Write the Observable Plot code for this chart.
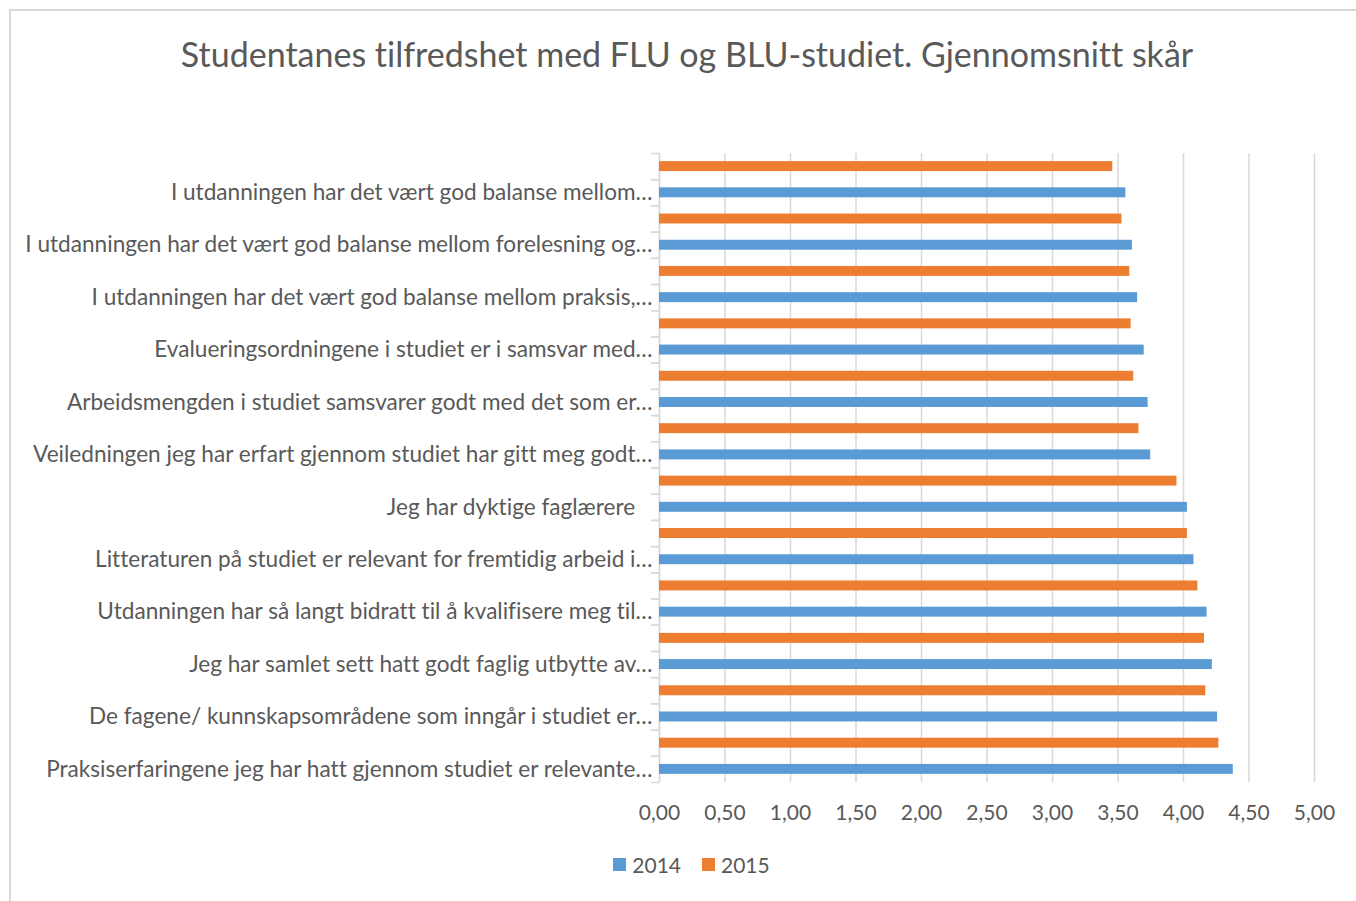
<!DOCTYPE html>
<html>
<head>
<meta charset="utf-8">
<script src="https://cdn.jsdelivr.net/npm/d3@7"></script>
<script src="https://cdn.jsdelivr.net/npm/@observablehq/plot@0.6"></script>
<style>
  html, body { margin: 0; padding: 0; background: #fff; overflow: hidden; }
  * { font-variant-ligatures: none; font-feature-settings: "liga" 0, "clig" 0; }
  #chart {
    position: absolute; left: 9px; top: 9px; width: 1352px; height: 1000px;
    border: 2px solid #d9d9d9; background: #fff;
    font-family: Lato, "Open Sans", sans-serif; color: #595959;
  }
  #title {
    height: 72px; padding-top: 26px; text-align: center;
    font-size: 34px; line-height: 34px; color: #595959; white-space: nowrap;
  }
  #legend { display: flex; justify-content: center; padding-top: 9px; padding-left: 30px; }
  #legend * { font-family: Lato, sans-serif !important; font-size: 21px !important; color: #595959 !important; }
  #legend svg { margin-right: 6px !important; }
  svg text { font-variant-ligatures: none; }
</style>
</head>
<body>
<div id="chart">
  <div id="title">Studentanes tilfredshet med FLU og BLU-studiet. Gjennomsnitt skår</div>
  <div id="plot"></div>
  <div id="legend"></div>
</div>
<script>
const categories = [
  "I utdanningen har det vært god balanse mellom…",
  "I utdanningen har det vært god balanse mellom forelesning og…",
  "I utdanningen har det vært god balanse mellom praksis,…",
  "Evalueringsordningene i studiet er i samsvar med…",
  "Arbeidsmengden i studiet samsvarer godt med det som er…",
  "Veiledningen jeg har erfart gjennom studiet har gitt meg godt…",
  "Jeg har dyktige faglærere\u00a0\u00a0\u00a0",
  "Litteraturen på studiet er relevant for fremtidig arbeid i…",
  "Utdanningen har så langt bidratt til å kvalifisere meg til…",
  "Jeg har samlet sett hatt godt faglig utbytte av…",
  "De fagene/ kunnskapsområdene som inngår i studiet er…",
  "Praksiserfaringene jeg har hatt gjennom studiet er relevante…"
];
const values2014 = [3.56, 3.61, 3.65, 3.70, 3.73, 3.75, 4.03, 4.08, 4.18, 4.22, 4.26, 4.38];
const values2015 = [3.46, 3.53, 3.59, 3.60, 3.62, 3.66, 3.95, 4.03, 4.11, 4.16, 4.17, 4.27];
const years = ["2014", "2015"];
const colors = ["#5B9BD5", "#ED7D31"];
const xTicks = [0, 0.5, 1, 1.5, 2, 2.5, 3, 3.5, 4, 4.5, 5];

const data = [];
const yKeys = [];
categories.forEach((c, i) => {
  yKeys.push(c + "|2015", c + "|2014");
  data.push({key: c + "|2015", year: "2015", value: values2015[i]});
  data.push({key: c + "|2014", year: "2014", value: values2014[i]});
});

const W = 1352, H = 730;
const mL = 648, mR = 49, mT = 44, mB = 57;
const step = (H - mT - mB) / yKeys.length;
const fmt = d => d3.format(".2f")(d).replace(".", ",");

const chart = Plot.plot({
  width: W, height: H,
  marginLeft: mL, marginRight: mR, marginTop: mT, marginBottom: mB,
  style: {fontFamily: "Lato, sans-serif", color: "#595959", background: "white", overflow: "visible"},
  x: {domain: [0, 5], axis: null, label: null},
  y: {domain: yKeys, paddingInner: 0.62, paddingOuter: 0.31, round: false, axis: null, label: null},
  color: {domain: years, range: colors},
  marks: [
    Plot.gridX(xTicks, {stroke: "#d9d9d9", strokeOpacity: 1, strokeWidth: 1.5}),
    Plot.axisX(xTicks, {tickSize: 0, tickPadding: 23, fontSize: 21, tickFormat: fmt, label: null}),
    Plot.axisY(yKeys, {tickSize: 8, tickFormat: () => "", dy: -step / 2, stroke: "#d9d9d9", strokeWidth: 1.5, label: null}),
    Plot.axisY(yKeys, {tickSize: 8, tickFormat: () => "", dy: step / 2, stroke: "#d9d9d9", strokeWidth: 1.5, label: null}),
    Plot.axisY(yKeys, {tickSize: 0, tickPadding: 7, fontSize: 22.6, label: null, tickFormat: k => k.endsWith("|2014") ? k.split("|")[0] : ""}),
    Plot.ruleX([0], {stroke: "#d9d9d9", strokeWidth: 1.5}),
    Plot.barX(data, {x: "value", y: "key", fill: "year"})
  ]
});
document.getElementById("plot").appendChild(chart);

const legend = Plot.legend({color: {domain: years, range: colors}, legend: "swatches", swatchSize: 13});
document.getElementById("legend").appendChild(legend);
</script>
</body>
</html>
